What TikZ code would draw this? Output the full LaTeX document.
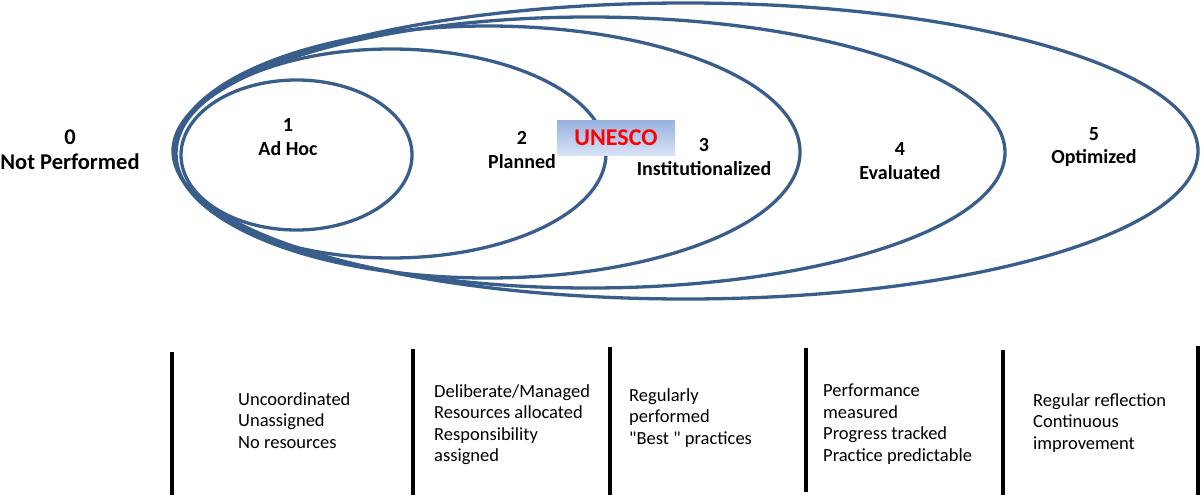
\documentclass[tikz,border=0pt]{standalone}
\usepackage{fontspec}
\setmainfont{Carlito}
\usetikzlibrary{shapes.geometric}
\definecolor{ringblue}{RGB}{58,94,140}
\definecolor{boxtop}{RGB}{152,178,224}
\definecolor{boxbottom}{RGB}{216,227,246}
\begin{document}
\begin{tikzpicture}[x=1pt,y=-1pt,
  ring/.style={draw=ringblue, line width=3.3pt, ellipse, inner sep=0pt},
  lvl/.style={font=\bfseries\fontsize{20}{23.5}\selectfont, align=center, inner sep=0pt},
  note/.style={font=\fontsize{18.5}{21.5}\selectfont, align=left, anchor=north west, inner sep=0pt},
  divider/.style={line width=3.2pt, black}]
\useasboundingbox (0,0) rectangle (1204,495);

% nested maturity rings sharing a common left edge
\node[ring, minimum width=231pt, minimum height=150pt] (e1) at (296.5,155) {};
\node[ring, minimum width=430pt, minimum height=209pt] (e2) at (391,153.5) {};
\node[ring, minimum width=625pt, minimum height=252pt] (e3) at (487.5,152) {};
\node[ring, minimum width=831pt, minimum height=271pt] (e4) at (589.5,152.5) {};
\node[ring, minimum width=1025pt, minimum height=296pt] (e5) at (685.5,151) {};

% level labels
\node[lvl, font=\bfseries\fontsize{22.5}{25}\selectfont] (l0) at (70,150) {0\\Not Performed};
\node[lvl] (l1) at (288,137) {1\\Ad Hoc};
\node[lvl] (l2) at (522,150) {2\\Planned};
\node[lvl] (l3) at (704,157) {3\\Institutionalized};
\node[lvl] (l4) at (900,161) {4\\Evaluated};
\node[lvl] (l5) at (1094,147) {5\\Optimized};

% UNESCO tag
\node[top color=boxtop, bottom color=boxbottom, minimum width=118pt, minimum height=35pt,
      inner sep=0pt, text=red, font=\bfseries\fontsize{24}{26}\selectfont] (tag) at (616,138) {UNESCO};

% column dividers
\draw[divider] (172,352) -- (172,495);
\draw[divider] (413,349) -- (413,495);
\draw[divider] (610,347) -- (610,495);
\draw[divider] (806,348) -- (806,492);
\draw[divider] (1003,350) -- (1003,495);
\draw[divider] (1198,346) -- (1198,495);

% column descriptions
\node[note] (d1) at (238,392) {Uncoordinated\\Unassigned\\No resources};
\node[note] (d2) at (434,384) {Deliberate/Managed\\Resources allocated\\Responsibility\\assigned};
\node[note] (d3) at (629,388) {Regularly\\performed\\\textquotedbl Best \textquotedbl{} practices};
\node[note] (d4) at (823,384) {Performance\\measured\\Progress tracked\\Practice predictable};
\node[note] (d5) at (1033,393) {Regular reflection\\Continuous\\improvement};
\end{tikzpicture}
\end{document}
